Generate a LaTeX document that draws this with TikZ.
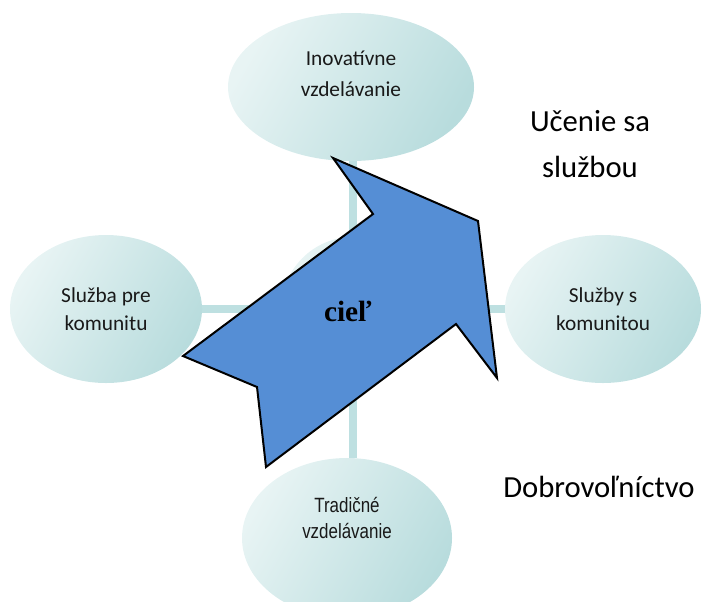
\documentclass[tikz,border=0pt]{standalone}
\usepackage{fontspec}
\setmainfont{Carlito}
\newfontfamily\narrowface[FakeStretch=0.82]{Liberation Sans}
\newfontfamily\timesface{Liberation Serif}
\usetikzlibrary{shapes.geometric,backgrounds}
\definecolor{ovalpale}{HTML}{E8F4F4}
\definecolor{ovaldeep}{HTML}{B8DCDD}
\definecolor{spoke}{HTML}{BEE0E1}
\definecolor{goalblue}{HTML}{558ED5}
\tikzset{
	oval/.style={ellipse,inner sep=0pt,left color=ovalpale,right color=ovaldeep,shading angle=60,align=center,text=black!90,font=\fontsize{16}{20.5}\selectfont},
	spokeline/.style={draw=spoke,line width=6pt},
	aside/.style={align=center,inner sep=0pt,font=\fontsize{23}{34}\selectfont}
}
\begin{document}
\begin{tikzpicture}[x=.75pt,y=-.75pt]
	\useasboundingbox (0,0) rectangle (705,601);
	\node[oval,minimum width=184.5pt,minimum height=111pt,text depth=20pt,font=\fontsize{16}{23.5}\selectfont] (innov) at (351,87)
		{Inovatívne\\vzdelávanie};
	\node[oval,minimum width=144pt,minimum height=111pt] (forcomm) at (106,309)
		{Služba pre\\komunitu};
	\node[oval,minimum width=147pt,minimum height=111pt] (withcomm) at (603,309)
		{Služby s\\komunitou};
	\node[oval,minimum width=157.5pt,minimum height=120pt,text depth=30pt,font=\narrowface\fontsize{15.5}{19}\selectfont] (trad) at (347,538)
		{Tradičné\\vzdelávanie};
	\node[oval,minimum width=108pt,minimum height=109.5pt] (core) at (353,310) {};
	\begin{pgfonlayer}{background}
		\draw[spokeline] (core.center |- innov.south) -- (core.center |- trad.north);
		\draw[spokeline] (forcomm.east) -- (withcomm.west);
	\end{pgfonlayer}
	\draw[fill=goalblue,line width=1.5pt] (333,158) -- (373,214) -- (183,356) -- (257,387)
		-- (266,467) -- (456,324) -- (497,378) -- (478,221) -- cycle;
	\node[font=\timesface\bfseries\fontsize{22}{26}\selectfont] (goal) at (348,311) {cieľ};
	\node[aside] (learning) at (590,144) {Učenie sa\\službou};
	\node[aside,anchor=base west] (volunteer) at (503,497) {Dobrovoľníctvo};
\end{tikzpicture}
\end{document}
